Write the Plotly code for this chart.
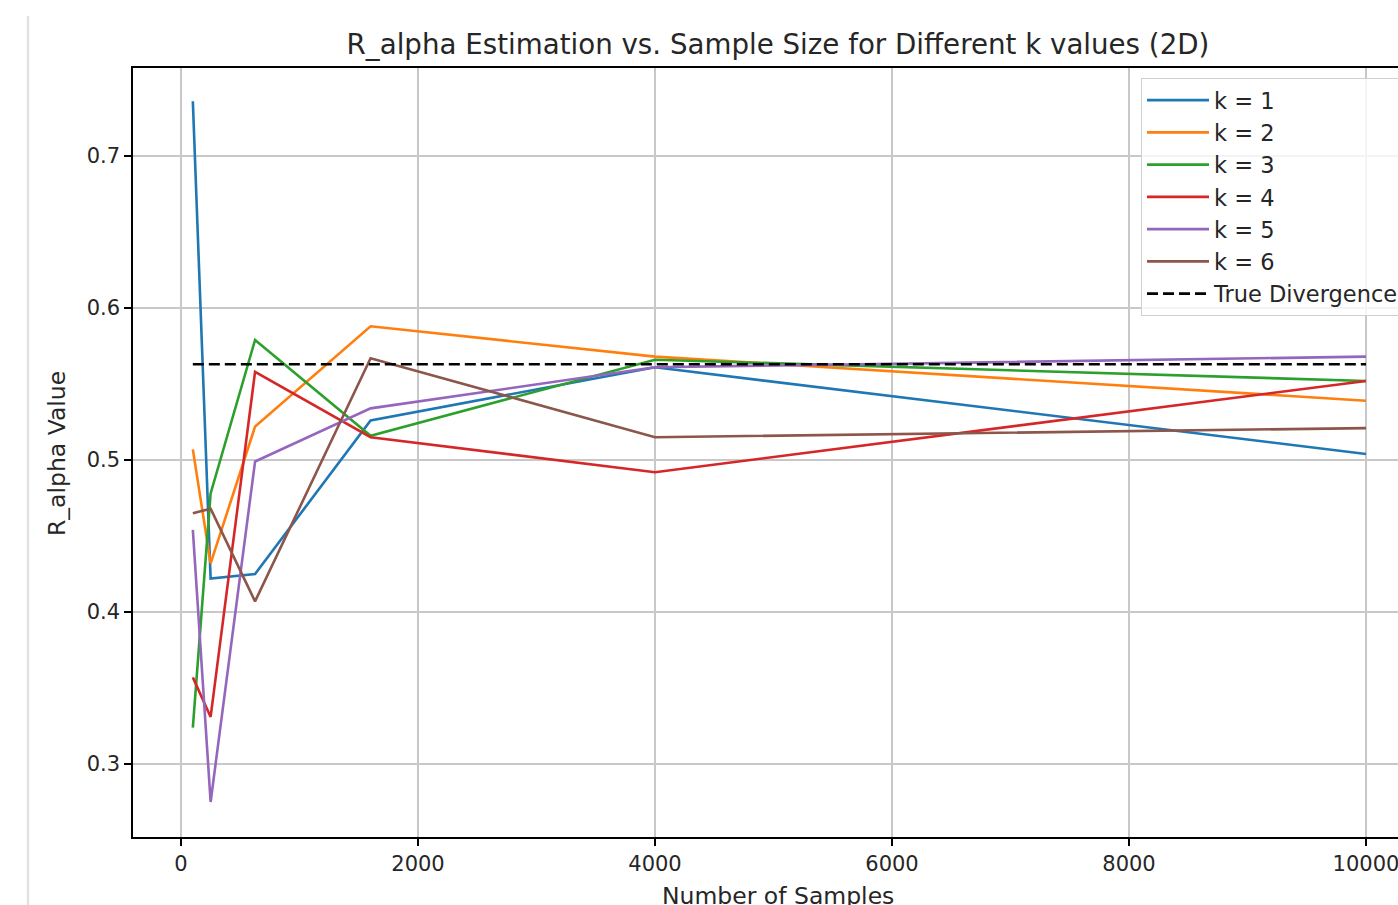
import plotly.graph_objects as go

samples = [100, 250, 625, 1600, 4000, 10000]
k_labels = ["k = 1", "k = 2", "k = 3", "k = 4", "k = 5", "k = 6"]
k1 = [0.736, 0.422, 0.425, 0.526, 0.561, 0.504]
k2 = [0.507, 0.432, 0.522, 0.588, 0.568, 0.539]
k3 = [0.324, 0.478, 0.579, 0.516, 0.566, 0.552]
k4 = [0.357, 0.331, 0.558, 0.515, 0.492, 0.552]
k5 = [0.454, 0.275, 0.499, 0.534, 0.561, 0.568]
k6 = [0.465, 0.468, 0.407, 0.567, 0.515, 0.521]
true_divergence = 0.563
colors = ["#1f77b4", "#ff7f0e", "#2ca02c", "#d62728", "#9467bd", "#8c564b"]

FONT = "DejaVu Sans, sans-serif"
TXT = "#262626"

fig = go.Figure()
for name, ys, c in zip(k_labels, [k1, k2, k3, k4, k5, k6], colors):
    fig.add_trace(go.Scatter(x=samples, y=ys, mode="lines", name=name,
                             line=dict(color=c, width=2.6)))
fig.add_trace(go.Scatter(x=[samples[0], samples[-1]], y=[true_divergence] * 2,
                         mode="lines", name="True Divergence",
                         line=dict(color="black", width=2.6, dash="11px,5px")))

W, H = 1398, 905
L, T, B = 133, 68, 68
fig.update_layout(
    width=W, height=H,
    margin=dict(l=L, r=0, t=T, b=B, autoexpand=False),
    paper_bgcolor="white", plot_bgcolor="white",
    font=dict(family=FONT, size=20, color=TXT),
    showlegend=True,
    legend=dict(x=(1141 - L) / (W - L), y=(H - B - 78) / (H - B - T),
                xanchor="left", yanchor="top",
                bgcolor="rgba(255,255,255,0.8)", bordercolor="#d0d0d0", borderwidth=1,
                font=dict(family=FONT, size=22.5, color=TXT), itemwidth=62,
                tracegroupgap=0),
    title=dict(text="R_alpha Estimation vs. Sample Size for Different k values (2D)",
               x=(778 - L) / (W - L), xref="paper", xanchor="center",
               y=1 - 44 / H, yref="container", yanchor="middle",
               font=dict(family=FONT, size=27.7, color=TXT)),
)
fig.update_xaxes(range=[-405, -405 + (W - L) / 0.1185],
                 tickvals=[0, 2000, 4000, 6000, 8000, 10000],
                 ticktext=["0", "2000", "4000", "6000", "8000", "10000"],
                 ticks="outside", ticklen=7, tickwidth=1.5, tickcolor="black",
                 ticklabeloverflow="allow",
                 showline=True, linecolor="black", linewidth=1.5, mirror=True,
                 showgrid=True, gridcolor="#c8c8c8", gridwidth=1.5, zeroline=False,
                 tickfont=dict(family=FONT, size=21, color=TXT))
fig.update_yaxes(range=[0.2520, 0.7579],
                 tickvals=[0.3, 0.4, 0.5, 0.6, 0.7],
                 ticktext=["0.3", "0.4", "0.5", "0.6", "0.7"],
                 ticks="outside", ticklen=7, tickwidth=1.5, tickcolor="black",
                 showline=True, linecolor="black", linewidth=1.5, mirror=False,
                 showgrid=True, gridcolor="#c8c8c8", gridwidth=1.5, zeroline=False,
                 tickfont=dict(family=FONT, size=21, color=TXT))

ph = H - B - T
fig.add_annotation(text="Number of Samples", xref="paper", yref="paper",
                   x=(778 - L) / (W - L), y=(H - B - 896) / ph, xanchor="center", yanchor="middle",
                   showarrow=False, font=dict(family=FONT, size=23.5, color=TXT))
fig.add_annotation(text="R_alpha Value", xref="paper", yref="paper",
                   x=(57 - L) / (W - L), y=(H - B - 454) / ph, xanchor="center", yanchor="middle",
                   textangle=-90, showarrow=False, font=dict(family=FONT, size=23.5, color=TXT))
fig.add_shape(type="line", xref="paper", yref="paper",
              x0=(28 - L) / (W - L), x1=(28 - L) / (W - L),
              y0=(H - B - 16) / ph, y1=(H - B - 905) / ph,
              line=dict(color="#e2e2e2", width=2.5))

fig.write_html("out.html", config={"displayModeBar": False},
               post_script="document.body.style.margin='0';document.body.style.overflow='hidden';")
